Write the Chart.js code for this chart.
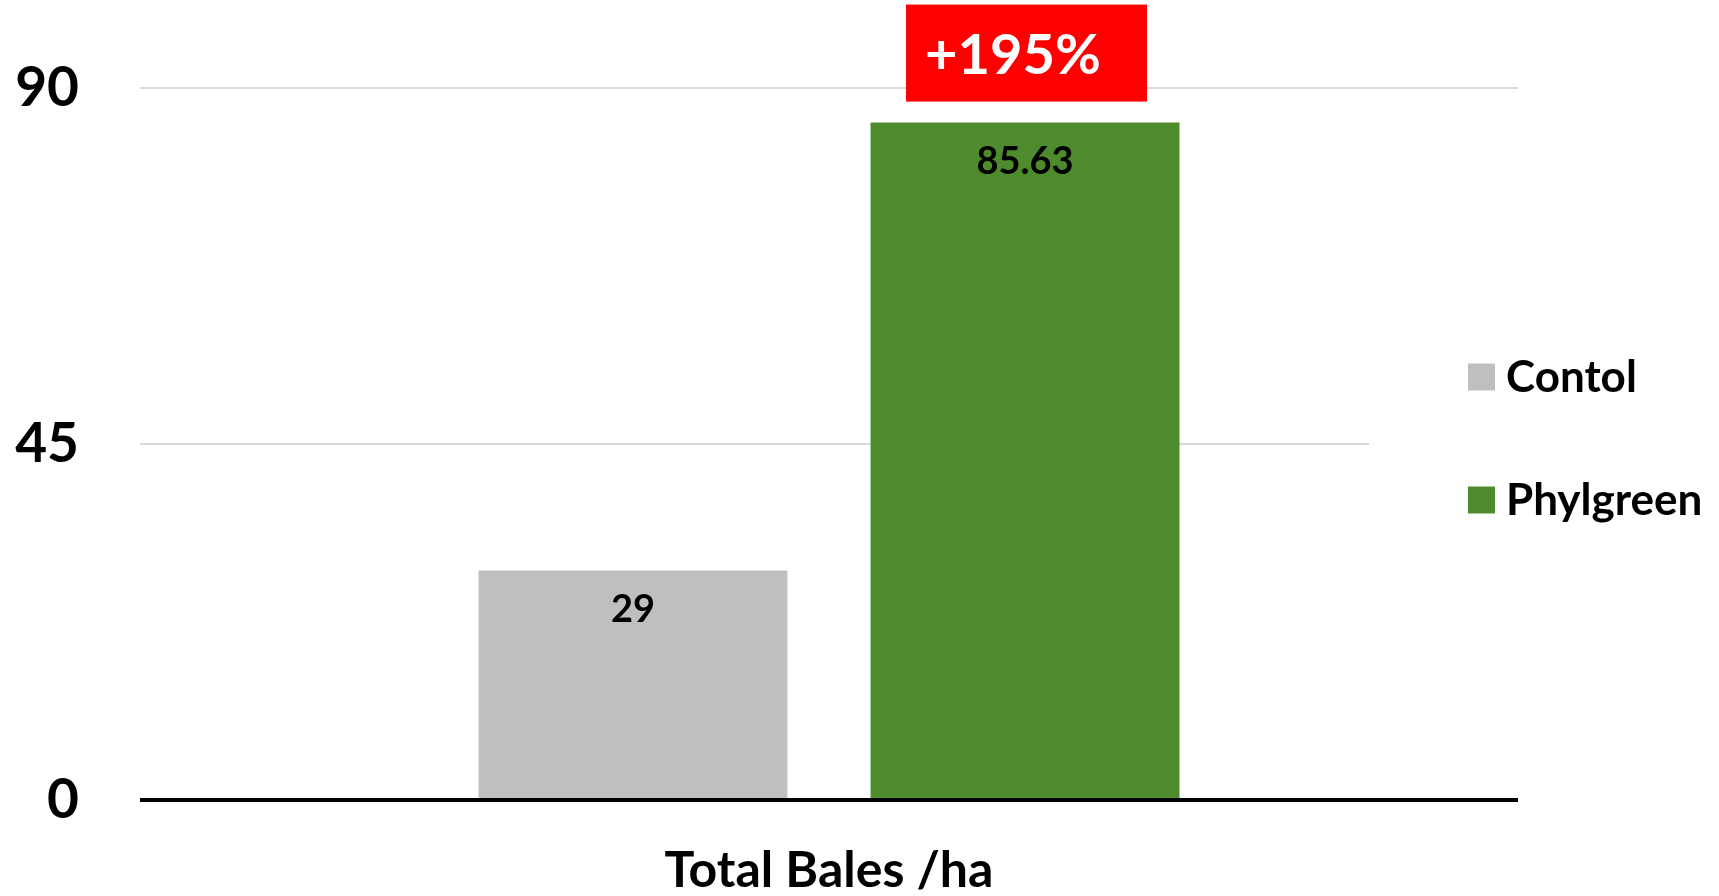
<!DOCTYPE html>
<html>
<head>
<meta charset="utf-8">
<script src="https://cdn.jsdelivr.net/npm/chart.js@4"></script>
<style>
  html, body { margin: 0; padding: 0; background: #fff; }
  #wrap { width: 1719px; height: 896px; }
</style>
</head>
<body>
<div id="wrap"><canvas id="c" width="1719" height="896"></canvas></div>
<script>
const categories = ['Total Bales /ha'];
const seriesNames = ['Contol', 'Phylgreen'];
const controlValues = [29];
const phylgreenValues = [85.63];
const seriesColors = ['#bfbfbf', '#4e8b2c'];
const yTicks = [0, 45, 90];

const FONT = 'Lato, "Open Sans", sans-serif';

const coverPlugin = {
  id: 'cover',
  beforeDatasetsDraw(chart) {
    const ctx = chart.ctx;
    ctx.save();
    ctx.fillStyle = '#ffffff';
    ctx.fillRect(1369, 300, chart.width - 1369, 260);
    ctx.restore();
  }
};

const labelPlugin = {
  id: 'valueLabels',
  afterDatasetsDraw(chart) {
    const ctx = chart.ctx;
    ctx.save();
    ctx.font = 'bold 38px ' + FONT;
    ctx.fillStyle = '#000';
    ctx.textAlign = 'center';
    ctx.textBaseline = 'middle';
    chart.data.datasets.forEach((ds, i) => {
      const meta = chart.getDatasetMeta(i);
      meta.data.forEach((bar, j) => {
        ctx.fillText(String(ds.data[j]), bar.x, bar.y + 39);
      });
    });
    // increase annotation above Phylgreen bar
    const gBar = chart.getDatasetMeta(1).data[0];
    const pct = Math.round((phylgreenValues[0] - controlValues[0]) / controlValues[0] * 100);
    const boxW = 241, boxH = 97;
    const boxX = gBar.x + 1.5 - boxW / 2;
    const boxY = gBar.y - 21 - boxH;
    ctx.fillStyle = '#ff0000';
    ctx.fillRect(boxX, boxY, boxW, boxH);
    ctx.fillStyle = '#ffffff';
    ctx.font = 'bold 56px ' + FONT;
    ctx.fillText('+' + pct + '%', gBar.x - 12, boxY + 51);
    ctx.restore();
  }
};

const legendPlugin = {
  id: 'customLegend',
  afterDraw(chart) {
    const ctx = chart.ctx;
    const rows = [377, 500];
    ctx.save();
    ctx.font = 'bold 44px ' + FONT;
    ctx.textAlign = 'left';
    ctx.textBaseline = 'middle';
    chart.data.datasets.forEach((ds, i) => {
      const y = rows[i];
      ctx.fillStyle = ds.backgroundColor;
      ctx.fillRect(1468, y - 13.5, 27, 27);
      ctx.fillStyle = '#000';
      ctx.fillText(ds.label, 1506, y + 1);
    });
    ctx.restore();
  }
};

function build() {
  new Chart(document.getElementById('c'), {
    type: 'bar',
    data: {
      labels: categories,
      datasets: [
        { label: seriesNames[0], data: controlValues, backgroundColor: seriesColors[0] },
        { label: seriesNames[1], data: phylgreenValues, backgroundColor: seriesColors[1] }
      ]
    },
    options: {
      responsive: false,
      animation: false,
      devicePixelRatio: 1,
      categoryPercentage: 0.569,
      barPercentage: 0.788,
      layout: { padding: { top: 88, right: 201, left: 0, bottom: 0 } },
      plugins: {
        legend: { display: false },
        tooltip: { enabled: false }
      },
      scales: {
        x: {
          grid: { display: false },
          border: { display: false },
          ticks: {
            color: '#000',
            font: { family: FONT, size: 50, weight: 'bold' },
            padding: 33
          },
          afterFit(scale) { scale.height = 96; scale.paddingLeft = 0; scale.paddingRight = 0; }
        },
        y: {
          min: 0,
          max: 90,
          afterBuildTicks(scale) { scale.ticks = yTicks.map(v => ({ value: v })); },
          border: { display: false },
          grid: {
            drawTicks: false,
            color: ctx => ctx.tick && ctx.tick.value === 0 ? '#000000' : '#d9d9d9',
            lineWidth: ctx => ctx.tick && ctx.tick.value === 0 ? 4 : 2
          },
          ticks: {
            color: '#000',
            font: { family: FONT, size: 55, weight: 'bold' },
            padding: 61
          },
          afterFit(scale) { scale.width = 140; scale.paddingTop = 0; scale.paddingBottom = 0; }
        }
      }
    },
    plugins: [coverPlugin, labelPlugin, legendPlugin]
  });
}

Promise.all([
  document.fonts.load('bold 48px Lato'),
  document.fonts.load('bold 52px Lato')
]).then(build, build);
</script>
</body>
</html>
